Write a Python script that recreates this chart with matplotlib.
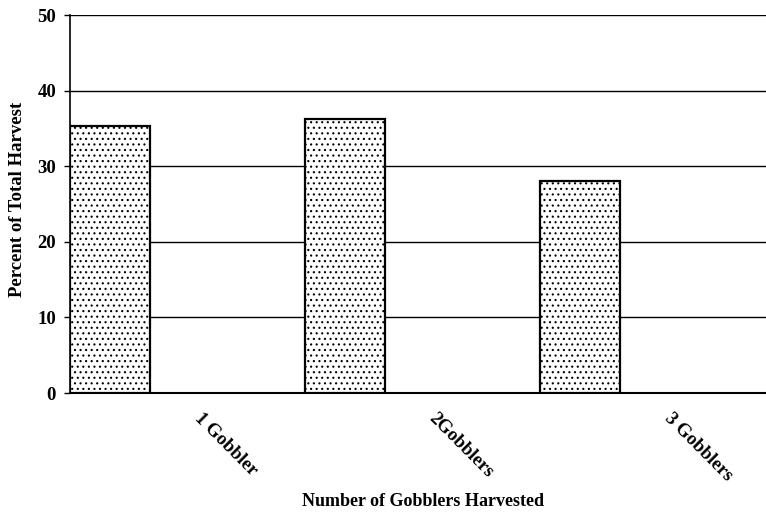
import matplotlib.pyplot as plt
import matplotlib as mpl

categories = ["1 Gobbler", "2Gobblers", "3 Gobblers"]
percent = [35.3, 36.3, 28.1]
yticks = [0, 10, 20, 30, 40, 50]

mpl.rcParams['font.family'] = ['Liberation Serif', 'DejaVu Serif']
mpl.rcParams['hatch.color'] = '#8a8a8a'
mpl.rcParams['hatch.linewidth'] = 0.8

fig = plt.figure(figsize=(7.66, 5.17), dpi=100)
ax = fig.add_axes([70/766, 1-393/517, 705/766, 378/517])

x = list(range(len(categories)))
ax.bar(x, percent, width=0.34, align='edge', color='white',
       edgecolor='black', linewidth=1.6, hatch='...', zorder=3)

for y in yticks[1:]:
    ax.axhline(y, color='black', linewidth=1.0, zorder=1)

ax.set_xlim(0, 3)
ax.set_ylim(0, 50)
ax.set_yticks(yticks)
ax.set_yticklabels([str(v) for v in yticks], fontsize=13.5, fontweight='bold')
ax.set_xticks([i + 0.565 for i in x])
ax.set_xticklabels(categories, rotation=-45, ha='left', va='top',
                   rotation_mode='anchor', fontsize=13.5, fontweight='bold')
ax.tick_params(axis='x', length=0, pad=12)
ax.tick_params(axis='y', length=4, width=1, pad=6)

for side in ['top', 'right']:
    ax.spines[side].set_visible(False)
ax.spines['left'].set_linewidth(1.2)
ax.spines['bottom'].set_linewidth(1.5)

# axis titles placed where the reference has them
fig.text(18/766, 1-199/517, "Percent of Total Harvest", rotation=90,
         ha='center', va='center', fontsize=13.5, fontweight='bold')
fig.text(423/766, 1-502/517, "Number of Gobblers Harvested",
         ha='center', va='center', fontsize=13, fontweight='bold')

fig.savefig("out.png", dpi=100)
